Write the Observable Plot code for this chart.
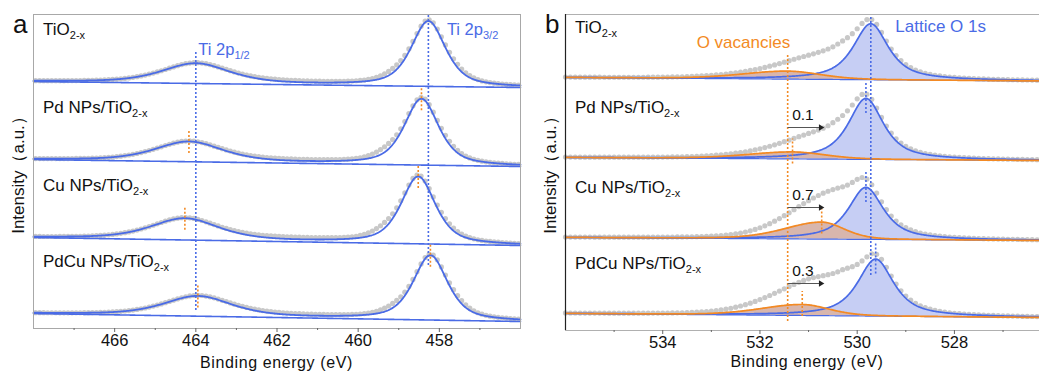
<!DOCTYPE html>
<html>
<head>
<meta charset="utf-8">
<script src="https://cdn.jsdelivr.net/npm/d3@7"></script>
<script src="https://cdn.jsdelivr.net/npm/@observablehq/plot@0.6"></script>
<style>
  body { margin: 0; background: #fff; }
  #fig { position: relative; width: 1039px; height: 374px; overflow: hidden; background: #fff; }
  #fig svg { position: absolute; top: 0; }
</style>
</head>
<body>
<div id="fig"></div>
<script>
// ---------- samples ----------
const samples = ["TiO2-x", "Pd NPs/TiO2-x", "Cu NPs/TiO2-x", "PdCu NPs/TiO2-x"];

// ---------- Ti 2p (panel a) ----------
const tiTicks = [466, 464, 462, 460, 458];
const tiMinorTicks = [467, 465, 463, 461, 459, 457];
const tiBgLow = [241, 162, 83, 7];          // background at 456 eV (stacked, a.u.)
const tiBgRise = [6, 7, 8, 8];              // background rise from 456 to 468 eV
const ti32Center = [458.27, 458.44, 458.52, 458.22];
const ti32Height = [65, 66, 67, 64.5];
const ti32Fwhm = [1.0, 1.0, 1.0, 1.0];
const ti12Center = [464.0, 464.17, 464.27, 463.95];
const ti12Height = [20, 20, 21.5, 20];
const ti12Fwhm = [2.0, 2.0, 2.0, 2.0];
// extra intensity of the measured points over the fit: [center, height, fwhm high-BE side, fwhm low-BE side]
const tiResidual = [
  [[459.1, 4, 0.8, 0.8], [457.6, 3, 0.8, 0.8], [461.8, 1.5, 3.5, 3.5]],
  [[459.3, 5, 0.8, 0.8], [457.8, 3, 0.8, 0.8], [461.8, 1.5, 3.5, 3.5]],
  [[459.35, 5, 0.8, 0.8], [457.85, 3, 0.8, 0.8], [461.8, 2, 3.5, 3.5]],
  [[459.1, 4, 0.8, 0.8], [457.55, 3, 0.8, 0.8], [461.8, 1.5, 3.5, 3.5]]
];

// ---------- O 1s (panel b) ----------
const oTicks = [534, 532, 530, 528];
const oMinorTicks = [535, 533, 531, 529, 527];
const oBgLow = [249.5, 170, 90, 13];        // background at 526.25 eV
const oBgRise = [3.5, 3, 3, 4];             // rise up to 536 eV
const latticeCenter = [529.72, 529.82, 529.82, 529.62];
const latticeHeight = [56, 61, 52, 57];
const latticeFwhm = [0.86, 0.86, 0.86, 0.88];
const vacancyCenter = [531.43, 531.33, 530.73, 531.13];
const vacancyHeight = [8, 7, 17, 11];
const vacancyFwhmHigh = [2.2, 2.2, 1.8, 2.0];   // high binding-energy side
const vacancyFwhmLow = [1.6, 1.6, 1.1, 1.3];    // low binding-energy side
const oResidual = [
  [[530.4, 18, 1.8, 0.85], [529.1, 1.5, 1.0, 1.0]],
  [[530.5, 17, 1.8, 0.85], [529.2, 1.5, 1.0, 1.0]],
  [[530.5, 21, 2.0, 0.95], [529.2, 1.5, 1.0, 1.0]],
  [[530.35, 27, 2.4, 0.85], [529.0, 1.5, 1.0, 1.0]]
];
const shiftLabels = ["", "0.1", "0.7", "0.3"];
const shiftArrowEnd = 530.75;

// ---------- style ----------
const FONT = "'Liberation Sans', Arial, Helvetica, sans-serif";
const BLUE = "#4a6be6";
const ORANGE = "#f38a24";
const BLUE_FILL = "#c6cef4";
const MAUVE_FILL = "#d8b6ad";
const DOT = "#c8c8c8";

// pseudo-Voigt line shape (optionally asymmetric)
function pv(e, c, h, w, eta) {
  const t = (e - c) / (w / 2);
  return h * (eta / (1 + t * t) + (1 - eta) * Math.exp(-Math.LN2 * t * t));
}
const pvAsym = (e, c, h, wHi, wLo, eta) => pv(e, c, h, e >= c ? wHi : wLo, eta);
const sumResidual = (e, list, eta) => d3.sum(list, ([c, h, wHi, wLo]) => pvAsym(e, c, h, wHi, wLo, eta));

// ---------- build Ti 2p curves ----------
const tiLineGrid = d3.range(456, 468.0001, 0.02);
const tiDotGrid = d3.range(456.05, 468, 0.1);
const tiBg = (i, e) => tiBgLow[i] + tiBgRise[i] * (e - 456) / 12;
const tiFit = (i, e) => tiBg(i, e)
  + pv(e, ti32Center[i], ti32Height[i], ti32Fwhm[i], 0.6)
  + pv(e, ti12Center[i], ti12Height[i], ti12Fwhm[i], 0.6);
const tiLines = samples.flatMap((s, i) => tiLineGrid.map(e => ({s, e, bg: tiBg(i, e), fit: tiFit(i, e)})));
const tiDots = samples.flatMap((s, i) => tiDotGrid.map(e => ({s, e, v: tiFit(i, e) + sumResidual(e, tiResidual[i], 0.5)})));

// ---------- build O 1s curves ----------
const O_LO = 526.25, O_HI = 536;
const oLineGrid = d3.range(O_LO, O_HI + 0.0001, 0.02);
const oDotGrid = d3.range(526.3, O_HI, 0.1);
const oBg = (i, e) => oBgLow[i] + oBgRise[i] * (e - O_LO) / (O_HI - O_LO);
const lattice = (i, e) => pv(e, latticeCenter[i], latticeHeight[i], latticeFwhm[i], 0.8);
const vacancy = (i, e) => pvAsym(e, vacancyCenter[i], vacancyHeight[i], vacancyFwhmHigh[i], vacancyFwhmLow[i], 0.3);
const oLines = samples.flatMap((s, i) => oLineGrid.map(e => {
  const bg = oBg(i, e);
  return {s, e, bg, lat: bg + lattice(i, e), vac: bg + vacancy(i, e)};
}));
const oDots = samples.flatMap((s, i) => oDotGrid.map(e => ({
  s, e, v: oBg(i, e) + lattice(i, e) + vacancy(i, e) + sumResidual(e, oResidual[i], 0.15)
})));

// ---------- marker lines ----------
const tiMarkers = [1, 2, 3].flatMap(i => [
  {x: ti32Center[i], top: tiFit(i, ti32Center[i])},
  {x: ti12Center[i], top: tiFit(i, ti12Center[i])}
]);
const latMarkers = [1, 2, 3].map(i => ({x: latticeCenter[i], top: oBg(i, latticeCenter[i]) + lattice(i, latticeCenter[i])}));
const vacMarkers = [1, 2, 3].map(i => ({x: vacancyCenter[i], top: oBg(i, vacancyCenter[i]) + vacancy(i, vacancyCenter[i])}));
const shiftArrows = [1, 2, 3].map(i => ({i, x1: vacancyCenter[0], x2: shiftArrowEnd, y: oBg(i, O_HI) + 30, label: shiftLabels[i]}));

const dotted = {strokeDasharray: "2,2", strokeWidth: 1.6};
const fig = document.getElementById("fig");

// ---------- panel a ----------
const plotA = Plot.plot({
  width: 522, height: 374,
  marginLeft: 33, marginRight: 2, marginTop: 14, marginBottom: 46,
  x: {domain: [468, 456], label: null},
  y: {domain: [0, 314], axis: null},
  style: {fontFamily: FONT, fontSize: "16.5px", color: "#111", background: "transparent", overflow: "visible"},
  marks: [
    Plot.dot(tiDots, {x: "e", y: "v", r: 2.6, fill: DOT}),
    Plot.line(tiLines, {x: "e", y: "bg", z: "s", stroke: BLUE, strokeWidth: 1.6}),
    Plot.line(tiLines, {x: "e", y: "fit", z: "s", stroke: BLUE, strokeWidth: 1.8}),
    Plot.ruleX([ti12Center[0]], {y1: 18, y2: 278, stroke: BLUE, ...dotted}),
    Plot.ruleX([ti32Center[0]], {y1: 63, y2: 314, stroke: BLUE, ...dotted}),
    Plot.ruleX(tiMarkers, {x: "x", y1: d => d.top - 12, y2: d => d.top + 11, stroke: ORANGE, ...dotted}),
    Plot.frame({stroke: "#a8a8a8"}),
    Plot.axisX({ticks: tiTicks, tickSize: 4, tickPadding: 2, stroke: "#666", label: null}),
    Plot.axisX({ticks: tiMinorTicks, tickSize: 2, stroke: "#666", tickFormat: () => "", label: null})
  ]
});
plotA.style.left = "0px";
fig.appendChild(plotA);

// ---------- panel b ----------
const plotB = Plot.plot({
  width: 517, height: 374,
  marginLeft: 43, marginRight: 0, marginTop: 14, marginBottom: 44,
  x: {domain: [O_HI, O_LO], label: null},
  y: {domain: [0, 316], axis: null},
  style: {fontFamily: FONT, fontSize: "16.5px", color: "#111", background: "transparent", overflow: "visible"},
  marks: [
    Plot.dot(oDots, {x: "e", y: "v", r: 2.6, fill: DOT}),
    Plot.areaY(oLines, {x: "e", y1: "bg", y2: "lat", z: "s", fill: BLUE_FILL}),
    Plot.areaY(oLines, {x: "e", y1: "bg", y2: "vac", z: "s", fill: MAUVE_FILL}),
    Plot.line(oLines, {x: "e", y: "bg", z: "s", stroke: BLUE, strokeWidth: 1.2}),
    Plot.line(oLines, {x: "e", y: "lat", z: "s", stroke: BLUE, strokeWidth: 1.7}),
    Plot.line(oLines, {x: "e", y: "vac", z: "s", stroke: ORANGE, strokeWidth: 1.7}),
    Plot.ruleX([latticeCenter[0]], {y1: 55, y2: 313, stroke: BLUE, ...dotted}),
    Plot.ruleX([vacancyCenter[0]], {y1: 9, y2: 275, stroke: ORANGE, ...dotted}),
    Plot.ruleX(latMarkers, {x: "x", y1: d => d.top - 15, y2: d => d.top + 16, stroke: BLUE, ...dotted}),
    Plot.ruleX(vacMarkers, {x: "x", y1: d => d.top - 12, y2: d => d.top + 13, stroke: ORANGE, ...dotted}),
    // shift arrows: shaft plus a filled head
    Plot.link(shiftArrows, {x1: "x1", x2: "x2", y1: "y", y2: "y", stroke: "#555", strokeWidth: 1}),
    Plot.dot(shiftArrows, {x: "x2", y: "y", symbol: "triangle2", rotate: 90, r: 3, fill: "#222", stroke: "none"}),
    Plot.frame({stroke: "#b0b0b0"}),
    Plot.ruleX([O_HI], {stroke: "#222", strokeWidth: 1.2}),
    Plot.axisX({ticks: oTicks, tickSize: 4, tickPadding: 2, stroke: "#666", label: null}),
    Plot.axisX({ticks: oMinorTicks, tickSize: 2, stroke: "#666", tickFormat: () => "", label: null})
  ]
});
plotB.style.left = "522px";
fig.appendChild(plotB);

// ---------- text with subscripts ----------
function addText(svg, x, y, parts, opt = {}) {
  const t = d3.select(svg).append("text")
    .attr("x", x).attr("y", y)
    .attr("font-family", FONT)
    .attr("font-size", opt.size || 17)
    .attr("fill", opt.color || "#111")
    .attr("text-anchor", opt.anchor || "start");
  if (opt.spacing) t.attr("letter-spacing", opt.spacing);
  if (opt.rotate) t.attr("transform", `rotate(${opt.rotate},${x},${y})`);
  let inSub = false;
  for (const [str, sub] of parts) {
    const ts = t.append("tspan").text(str);
    if (sub && !inSub) ts.attr("dy", 4).attr("font-size", opt.subSize || 11);
    else if (sub) ts.attr("font-size", opt.subSize || 11);
    else if (inSub) ts.attr("dy", -4);
    inSub = !!sub;
  }
  return t;
}
const nameParts = s => [[s.replace("2-x", "")], ["2-x", true]];

const xa = plotA.scale("x"), ya = plotA.scale("y");
const xb = plotB.scale("x"), yb = plotB.scale("y");

// panel a texts
addText(plotA, 13, 33, [["a"]], {size: 26});
samples.forEach((s, i) => addText(plotA, 43, ya.apply(tiBg(i, 468) + 46), nameParts(s)));
addText(plotA, xa.apply(ti12Center[0]) + 3, 55, [["Ti 2p"], ["1/2", true]], {color: BLUE, size: 16.5});
addText(plotA, xa.apply(ti32Center[0]) + 19, 35, [["Ti 2p"], ["3/2", true]], {color: BLUE, size: 16.5});
addText(plotA, (33 + 520) / 2, 368, [["Binding energy (eV)"]], {anchor: "middle", size: 16, spacing: 0.6});
addText(plotA, 24, 171, [["Intensity（a.u.）"]], {anchor: "middle", rotate: -90});

// panel b texts
addText(plotB, 23, 33, [["b"]], {size: 26});
samples.forEach((s, i) => addText(plotB, 53, yb.apply(oBg(i, O_HI) + 44), nameParts(s)));
addText(plotB, xb.apply(vacancyCenter[0]) + 3, 48, [["O vacancies"]], {color: ORANGE, anchor: "end"});
addText(plotB, xb.apply(latticeCenter[0]) + 25, 32, [["Lattice O 1s"]], {color: BLUE});
addText(plotB, 285, 367, [["Binding energy (eV)"]], {anchor: "middle", size: 16, spacing: 0.6});
addText(plotB, 34, 171, [["Intensity（a.u.）"]], {anchor: "middle", rotate: -90});
shiftArrows.forEach(d => addText(plotB, xb.apply(d.x1) + 5, yb.apply(d.y) - 7, [[d.label]], {size: 15.5}));
</script>
</body>
</html>
